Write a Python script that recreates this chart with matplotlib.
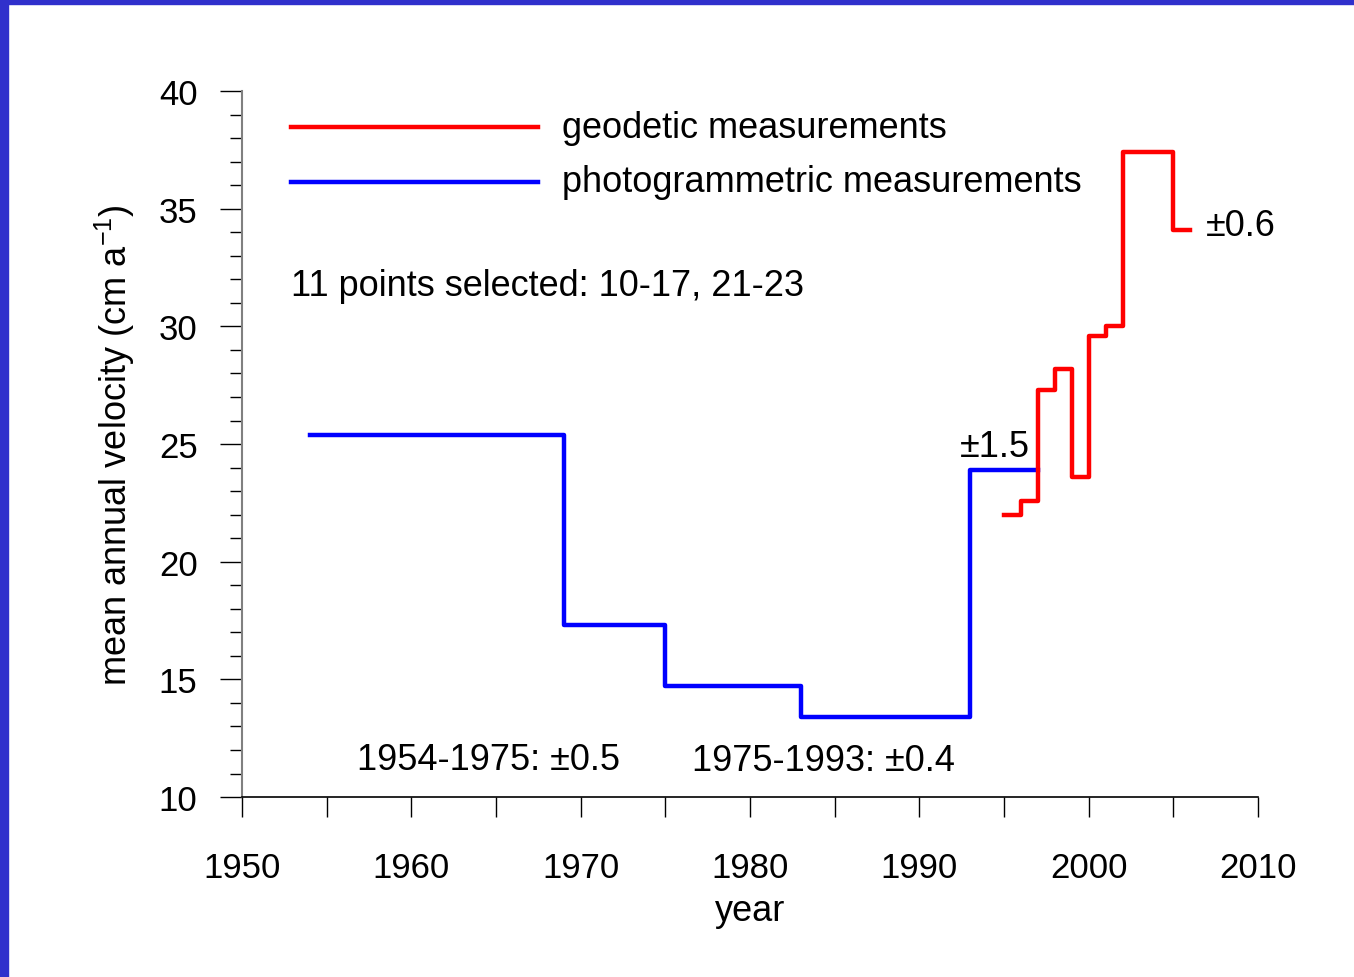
import matplotlib.pyplot as plt
from matplotlib.patches import Rectangle

plt.rcParams['font.family'] = ['Liberation Sans', 'DejaVu Sans']
plt.rcParams['mathtext.fontset'] = 'custom'
plt.rcParams['mathtext.rm'] = 'Liberation Sans'

# photogrammetric (blue): period boundaries and mean velocity per period
photo_years = [1954, 1969, 1975, 1983, 1993, 1997]
photo_vel = [25.4, 17.3, 14.7, 13.4, 23.9]

# geodetic (red)
geo_years = [1995, 1996, 1997, 1998, 1999, 2000, 2001, 2002, 2005, 2006]
geo_vel = [22.0, 22.6, 27.3, 28.2, 23.6, 29.6, 30.0, 37.4, 34.1]

fig = plt.figure(figsize=(13.54, 9.78), dpi=100)
ax = fig.add_axes([0.1787, 0.184, 0.7504, 0.7219])

ax.step(photo_years, photo_vel + [photo_vel[-1]], where='post', color='#0000ff', lw=3.2)
ax.step(geo_years, geo_vel + [geo_vel[-1]], where='post', color='#ff0000', lw=3.2)

ax.set_xlim(1950, 2010)
ax.set_ylim(10, 40)
ax.set_xticks(range(1950, 2011, 10))
ax.set_xticks(range(1955, 2010, 10), minor=True)
ax.set_yticks(range(10, 41, 5))
ax.set_yticks(range(10, 41, 1), minor=True)

ax.spines['top'].set_visible(False)
ax.spines['right'].set_visible(False)
ax.spines['left'].set_color('#808080')
ax.spines['left'].set_linewidth(1.5)
ax.spines['bottom'].set_linewidth(1.2)

ax.tick_params(axis='x', which='both', direction='out', length=14.5, width=1, labelsize=25, pad=24)
ax.tick_params(axis='y', which='major', direction='out', length=16, width=1, labelsize=25, pad=16)
ax.tick_params(axis='y', which='minor', direction='out', length=8.5, width=1)

ax.set_xlabel('year', fontsize=26, labelpad=7)
ax.set_ylabel('mean annual velocity (cm a$^{\\mathrm{-1}}$)', fontsize=26, labelpad=16)

# legend drawn by hand, as in the original
ax.plot([1952.9, 1967.5], [38.47, 38.47], color='#ff0000', lw=3.2)
ax.plot([1952.9, 1967.5], [36.14, 36.14], color='#0000ff', lw=3.2)
ax.text(1968.9, 38.47, 'geodetic measurements', fontsize=26, va='center')
ax.text(1968.9, 36.14, 'photogrammetric measurements', fontsize=26, va='center')

ax.text(1952.9, 31.75, '11 points selected: 10-17, 21-23', fontsize=26, va='center')
ax.text(1956.8, 11.6, '1954-1975: \u00b10.5', fontsize=26, va='center')
ax.text(1976.6, 11.55, '1975-1993: \u00b10.4', fontsize=26, va='center')
ax.text(1992.4, 24.9, '\u00b11.5', fontsize=26, va='center')
ax.text(2006.9, 34.27, '\u00b10.6', fontsize=26, va='center')

# blue frame at the top and left edge
fig.patches.append(Rectangle((0, 0), 0.006, 1, transform=fig.transFigure, color='#3030cc', zorder=0))
fig.patches.append(Rectangle((0, 0.995), 1, 0.005, transform=fig.transFigure, color='#3030cc', zorder=0))

fig.savefig('out.png', dpi=100)
